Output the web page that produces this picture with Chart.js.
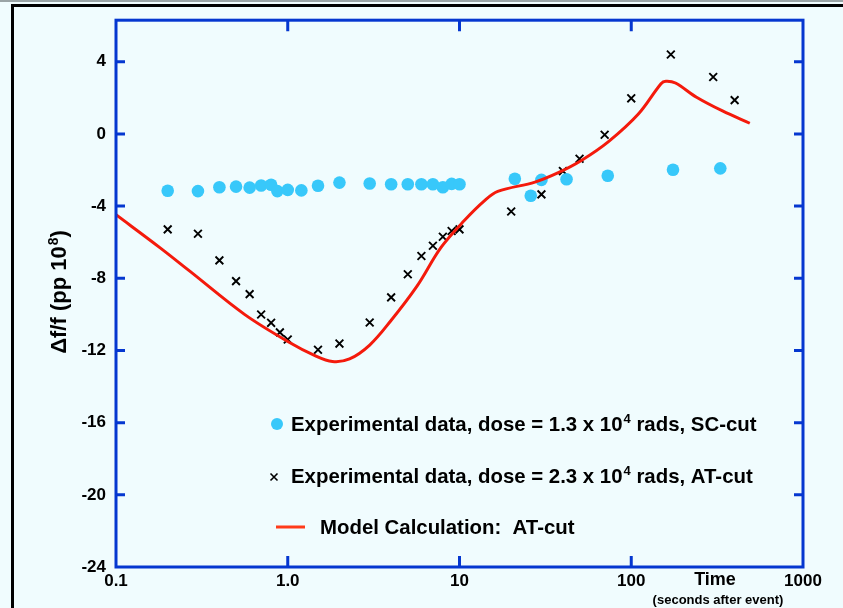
<!DOCTYPE html>
<html>
<head>
<meta charset="utf-8">
<script src="https://cdn.jsdelivr.net/npm/chart.js@4.4.1/dist/chart.umd.min.js"></script>
<style>
  html, body { margin: 0; padding: 0; background: #f0fcfe; }
  canvas { display: block; }
</style>
</head>
<body>
<canvas id="grafico" width="843" height="608"></canvas>
<script>
// Valores (tempo em segundos, desvio em pp 10^8)
const tempoSC = [0.2, 0.3, 0.4, 0.5, 0.6, 0.7, 0.8, 0.87, 1.0, 1.2, 1.5, 2, 3, 4, 5, 6, 7, 8, 9, 10, 21, 26, 30, 42, 73, 175, 330];
const desvioSC = [-3.15, -3.17, -2.96, -2.92, -2.98, -2.86, -2.82, -3.17, -3.1, -3.13, -2.87, -2.70, -2.75, -2.79, -2.79, -2.79, -2.79, -2.96, -2.77, -2.79, -2.49, -3.43, -2.55, -2.51, -2.32, -1.99, -1.91];

const tempoAT = [0.2, 0.3, 0.4, 0.5, 0.6, 0.7, 0.8, 0.9, 1.0, 1.5, 2, 3, 4, 5, 6, 7, 8, 9, 10, 20, 30, 40, 50, 70, 100, 170, 300, 400];
const desvioAT = [-5.29, -5.53, -7.01, -8.16, -8.88, -10.01, -10.47, -11.0, -11.39, -11.96, -11.62, -10.45, -9.06, -7.78, -6.77, -6.2, -5.7, -5.38, -5.29, -4.3, -3.35, -2.06, -1.38, -0.05, 1.97, 4.4, 3.15, 1.87];

const tempoModelo = [0.1, 0.18, 0.27, 0.56, 1.0, 1.45, 1.82, 2.29, 3.0, 3.94, 5.67, 7.79, 10.7, 14, 16.7, 27.5, 37.6, 51.5, 73.7, 110, 149, 159, 181, 240, 340, 490];
const desvioModelo = [-4.48, -6.3, -7.62, -10.0, -11.5, -12.3, -12.61, -12.47, -11.7, -10.41, -8.42, -6.3, -4.79, -3.7, -3.19, -2.67, -2.15, -1.46, -0.43, 1.10, 2.78, 2.92, 2.82, 2.03, 1.27, 0.59];

// Marcas dos eixos
const ticksX = [0.1, 1, 10, 100, 1000];
const rotulosX = ['0.1', '1.0', '10', '100', '1000'];
const ticksY = [-24, -20, -16, -12, -8, -4, 0, 4];

const AZUL = '#0537d0';
const CIANO = '#38c8fa';
const VERMELHO = '#f41a0c';
const FONTE = "'Liberation Sans', Arial, sans-serif";

// Junta tempo e valor em pontos {x, y}
const pontos = (xs, ys) => xs.map((x, i) => ({ x, y: ys[i] }));

// Desenha texto com um expoente no meio
function textoComExpoente(ctx, x, y, antes, exp, depois, tam, tamExp) {
  ctx.font = `bold ${tam}px ${FONTE}`;
  ctx.fillText(antes, x, y);
  let w = ctx.measureText(antes).width;
  ctx.font = `bold ${tamExp}px ${FONTE}`;
  ctx.fillText(exp, x + w + 1, y - tam * 0.28);
  w += ctx.measureText(exp).width + 1;
  ctx.font = `bold ${tam}px ${FONTE}`;
  ctx.fillText(depois, x + w, y);
}

function larguraComExpoente(ctx, antes, exp, depois, tam, tamExp) {
  ctx.font = `bold ${tam}px ${FONTE}`;
  let w = ctx.measureText(antes).width + ctx.measureText(depois).width;
  ctx.font = `bold ${tamExp}px ${FONTE}`;
  return w + ctx.measureText(exp).width + 1;
}

// Fundo e moldura preta da figura
const fundo = {
  id: 'fundo',
  beforeDraw(chart) {
    const ctx = chart.ctx;
    ctx.save();
    ctx.fillStyle = '#f0fcfe';
    ctx.fillRect(0, 0, chart.width, chart.height);
    ctx.fillStyle = '#9aa4a6';
    ctx.fillRect(0, 0, chart.width, 2);
    ctx.fillStyle = '#000';
    ctx.fillRect(11, 4, chart.width - 11, 3);
    ctx.fillRect(11, 4, 3, chart.height - 4);
    ctx.restore();
  }
};

// Moldura azul, marcas internas, legenda e títulos
const moldura = {
  id: 'moldura',
  afterDraw(chart) {
    const ctx = chart.ctx;
    const a = chart.chartArea;
    const sx = chart.scales.x;
    const sy = chart.scales.y;
    ctx.save();
    ctx.strokeStyle = AZUL;
    ctx.lineWidth = 3;
    ctx.strokeRect(a.left, a.top, a.right - a.left, a.bottom - a.top);

    ctx.beginPath();
    ticksY.slice(1).forEach(v => {
      const y = sy.getPixelForValue(v);
      ctx.moveTo(a.left, y); ctx.lineTo(a.left + 9, y);
      ctx.moveTo(a.right, y); ctx.lineTo(a.right - 9, y);
    });
    ticksX.slice(1, -1).forEach(v => {
      const x = sx.getPixelForValue(v);
      ctx.moveTo(x, a.bottom); ctx.lineTo(x, a.bottom - 11);
      ctx.moveTo(x, a.top); ctx.lineTo(x, a.top + 11);
    });
    ctx.stroke();

    // Título do eixo y
    ctx.fillStyle = '#000';
    ctx.textBaseline = 'middle';
    ctx.textAlign = 'left';
    ctx.save();
    ctx.translate(60, 292);
    ctx.rotate(-Math.PI / 2);
    const wt = larguraComExpoente(ctx, 'Δf/f (pp 10', '8', ')', 22, 14);
    textoComExpoente(ctx, -wt / 2, 0, 'Δf/f (pp 10', '8', ')', 22, 14);
    ctx.restore();

    // Título do eixo x
    ctx.textAlign = 'center';
    ctx.font = `bold 18px ${FONTE}`;
    ctx.fillText('Time', 715, 580);
    ctx.font = `bold 13px ${FONTE}`;
    ctx.fillText('(seconds after event)', 718, 600);

    // Legenda
    ctx.textAlign = 'left';
    ctx.fillStyle = CIANO;
    ctx.beginPath();
    ctx.arc(277, 424, 6, 0, Math.PI * 2);
    ctx.fill();
    ctx.fillStyle = '#000';
    textoComExpoente(ctx, 291, 425, 'Experimental data, dose = 1.3 x 10', '4', ' rads, SC-cut', 20.4, 13);

    ctx.strokeStyle = '#000';
    ctx.lineWidth = 1.6;
    ctx.beginPath();
    ctx.moveTo(270.5, 473.5); ctx.lineTo(277.5, 480.5);
    ctx.moveTo(277.5, 473.5); ctx.lineTo(270.5, 480.5);
    ctx.stroke();
    textoComExpoente(ctx, 291, 477, 'Experimental data, dose = 2.3 x 10', '4', ' rads, AT-cut', 20.4, 13);

    ctx.strokeStyle = '#ff3b1a';
    ctx.lineWidth = 3;
    ctx.beginPath();
    ctx.moveTo(276, 527); ctx.lineTo(305, 527);
    ctx.stroke();
    ctx.font = `bold 20.4px ${FONTE}`;
    ctx.fillText('Model Calculation:  AT-cut', 320, 528);
    ctx.restore();
  }
};

new Chart(document.getElementById('grafico'), {
  type: 'scatter',
  data: {
    datasets: [
      {
        label: 'Model Calculation: AT-cut',
        data: pontos(tempoModelo, desvioModelo),
        showLine: true,
        borderColor: VERMELHO,
        borderWidth: 3,
        pointRadius: 0,
        tension: 0.35
      },
      {
        label: 'SC-cut',
        data: pontos(tempoSC, desvioSC),
        pointStyle: 'circle',
        pointRadius: 6.3,
        backgroundColor: CIANO,
        borderWidth: 0
      },
      {
        label: 'AT-cut',
        data: pontos(tempoAT, desvioAT),
        pointStyle: 'crossRot',
        pointRadius: 5.5,
        borderColor: '#000',
        borderWidth: 1.9
      }
    ]
  },
  options: {
    responsive: false,
    animation: false,
    devicePixelRatio: 1,
    layout: { padding: { top: 18, right: 40, left: 0, bottom: 0 } },
    plugins: {
      legend: { display: false },
      tooltip: { enabled: false }
    },
    scales: {
      x: {
        type: 'logarithmic',
        min: 0.1,
        max: 1000,
        afterBuildTicks: s => { s.ticks = ticksX.map(v => ({ value: v })); },
        afterFit: s => { s.height = 41; },
        grid: { display: false, drawTicks: false, tickLength: 0 },
        border: { display: false },
        ticks: {
          autoSkip: false,
          maxRotation: 0,
          padding: 4,
          color: '#000',
          font: { family: FONTE, size: 17, weight: 'bold' },
          callback: (v, i) => rotulosX[i]
        }
      },
      y: {
        min: -24,
        max: 6.3,
        afterBuildTicks: s => { s.ticks = ticksY.map(v => ({ value: v })); },
        afterFit: s => { s.width = 116; },
        grid: { display: false, drawTicks: false, tickLength: 0 },
        border: { display: false },
        ticks: {
          padding: 10,
          color: '#000',
          font: { family: FONTE, size: 17, weight: 'bold' }
        }
      }
    }
  },
  plugins: [fundo, moldura]
});
</script>
</body>
</html>
